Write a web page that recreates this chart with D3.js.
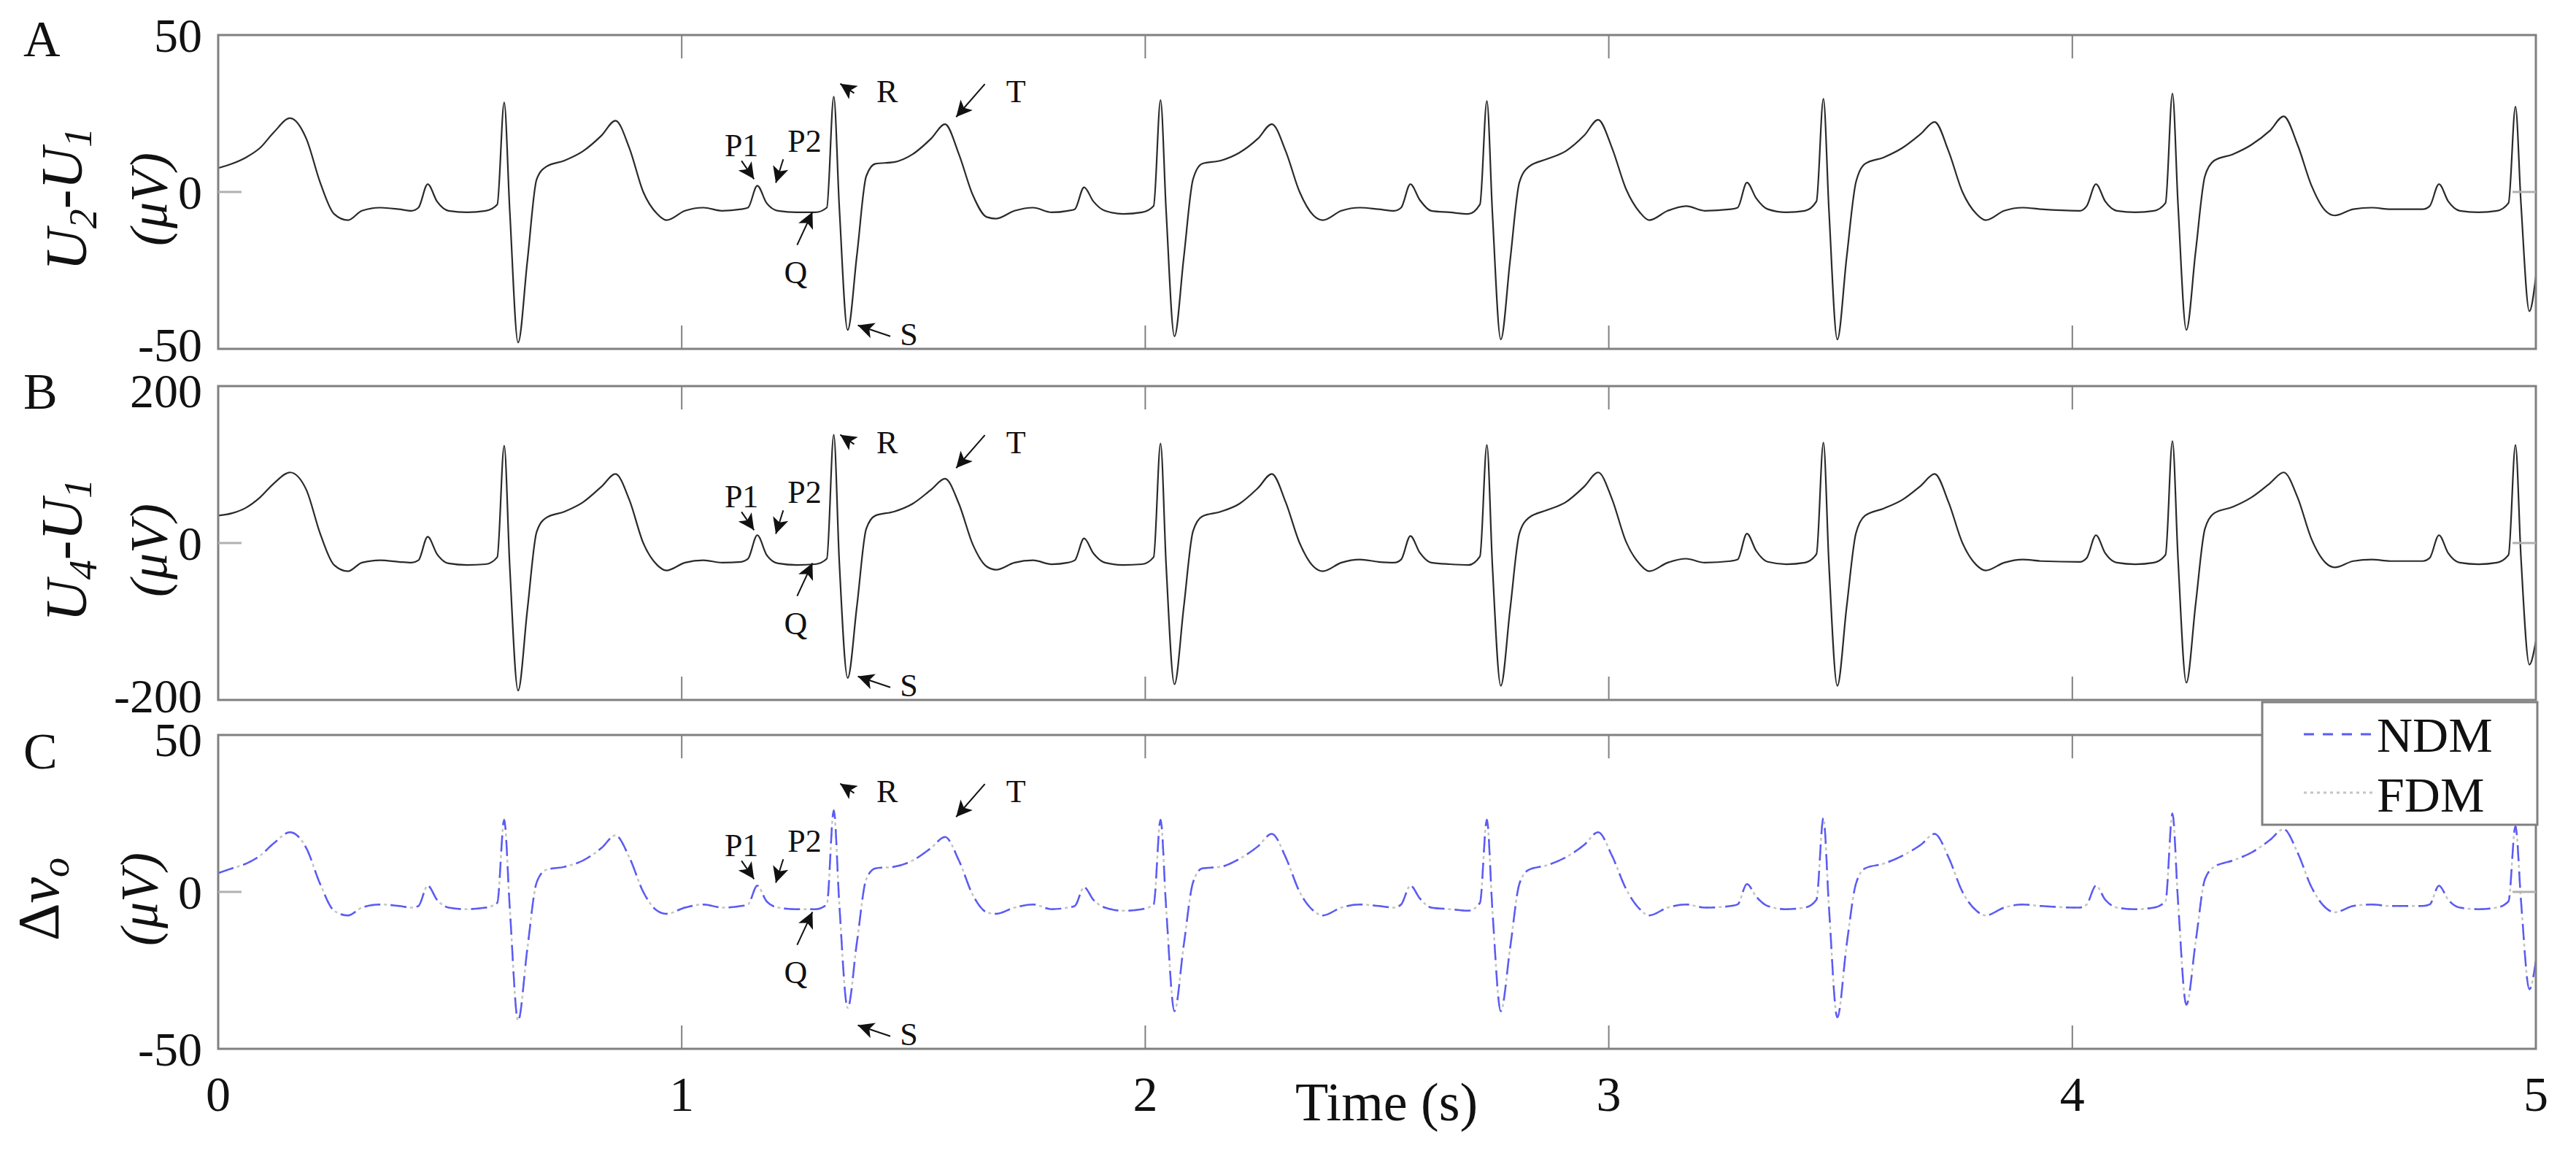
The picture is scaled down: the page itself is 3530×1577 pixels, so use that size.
<!DOCTYPE html>
<html><head><meta charset="utf-8">
<script src="https://cdn.jsdelivr.net/npm/d3@7/dist/d3.min.js"></script>
<style>body{margin:0;background:#fff}svg{display:block}text{font-family:"Liberation Serif",serif;fill:#111}</style>
</head><body>
<script>
// ---- data ----
const rPeakTimes = [0.617, 1.328, 2.033, 2.737, 3.463, 4.216, 4.956];
const beatOffsets = [-0.20,-0.185,-0.165,-0.145,-0.12,-0.08,-0.04,-0.015,0,0.012,0.03,0.05,0.07,0.09,0.13,0.17,0.21,0.24,0.27,0.30,0.33,0.35,0.39,0.43,0.47];
const leadTimes = [0,0.03,0.06,0.09,0.12,0.155,0.19,0.22,0.25,0.28,0.31,0.35,0.39];
const tailTime = 5.0;

const leadA = [7.6,9,11,14,19,23.5,17,3,-7,-9,-6,-5,-5.5];
const beatsA = [
 [-6,-5,2.5,-3,-6,-6.5,-6,-4,28.5,-6,-48,-22,4,8,10,13,18,22.7,14,0,-7,-9,-6,-5,-6],
 [-5.5,-5,2,-3.5,-6,-6.5,-6.5,-5,30.4,-5,-44,-20,5,9,9.5,12,17,21.6,12,-1,-8,-8.5,-6,-5,-6.5],
 [-6,-5.5,1.5,-3,-6,-7,-6.5,-4.5,29.3,-6,-46,-21,4,9,10,12.5,17,21.6,13,0,-7.5,-9,-6,-5,-5.5],
 [-6,-5,2.5,-2.5,-6,-6.5,-7,-4,29,-7,-47,-22,3,8,10.5,13,18,23,14,1,-6.5,-9,-6,-4.5,-6],
 [-5.5,-5,3,-2,-5.5,-6.5,-6,-3,29.7,-6,-47,-21,3,9,11,14,18.5,22.3,13,0,-7,-9,-6,-5,-5.5],
 [-6,-4.5,2.5,-3,-6,-6.5,-6,-3.5,31.4,-4,-44,-19,5,10,12,15,19.5,24.1,15,2,-6,-7.5,-5.5,-5,-5.5],
 [-5.5,-4.5,2.5,-3,-6,-6.5,-6,-3.5,27.2,-4,-38]
];
const tailA = -27;

const leadB = [35,38,45,58,76,90,68,12,-28,-36,-25,-22,-24];
const beatsB = [
 [-25,-22,8,-14,-26,-28,-27,-18,124,-30,-188,-85,14,32,40,52,72,88,55,0,-28,-35,-25,-22,-25],
 [-24,-20,10,-15,-26,-28,-27,-20,138,-25,-172,-80,18,35,40,50,68,82,50,-2,-30,-34,-25,-22,-27],
 [-25,-22,6,-13,-25,-28,-27,-18,127,-28,-180,-82,15,34,40,50,70,88,52,0,-30,-36,-25,-21,-24],
 [-25,-21,9,-12,-25,-27,-28,-17,125,-30,-182,-85,12,32,42,52,72,90,56,2,-27,-36,-25,-20,-25],
 [-23,-21,12,-10,-24,-27,-25,-14,128,-28,-182,-82,12,35,44,55,73,88,52,0,-28,-35,-25,-21,-23],
 [-24,-19,10,-13,-25,-27,-25,-15,130,-20,-178,-78,18,38,46,58,76,90,58,5,-25,-31,-23,-21,-23],
 [-23,-19,10,-13,-25,-27,-25,-15,125,-20,-155]
];
const tailB = -125;

const leadC = [6,7.5,9,11.5,15.5,19,14,2.5,-6,-7.5,-5,-4,-4.5];
const beatsC = [
 [-5,-4.5,2,-2.5,-5,-5.5,-5,-3.5,23,-5,-41,-18,3,7,8,10,14,18,11,0,-6,-7,-5,-4,-5],
 [-4.5,-4,2,-3,-5,-5.5,-5.5,-4,26,-4,-37,-16,4,7.5,8,10,14,17.5,10,-1,-6.5,-7,-5,-4,-5.5],
 [-5,-4.5,1.5,-2.5,-5,-6,-5.5,-4,23,-5,-38,-17,3,7.5,8,10.5,14.5,18.5,11,0,-6,-7.5,-5,-4,-4.5],
 [-5,-4,2,-2,-5,-5.5,-6,-3.5,23,-6,-38,-18,2.5,7,8.5,11,15,19,11.5,1,-5.5,-7.5,-5,-4,-5],
 [-4.5,-4,2.5,-1.5,-4.5,-5.5,-5,-2.5,23.5,-5,-40,-17,2.5,7.5,9,11.5,15,18.5,11,0,-6,-7.5,-5,-4,-4.5],
 [-5,-4,2,-2.5,-5,-5.5,-5,-3,25,-3,-36,-16,4,8,10,12.5,16.5,20,12.5,1.5,-5,-6.5,-4.5,-4,-4.5],
 [-4.5,-4,2,-2.5,-5,-5.5,-5,-3,21,-3,-31]
];
const tailC = -22;

const xTicks = [0,1,2,3,4,5];
const yTicksA = [-50,0,50], yTicksB = [-200,0,200], yTicksC = [-50,0,50];
const panelLetters = ["A","B","C"];
const legendLabels = ["NDM","FDM"];
// annotations in panel-A units: [label, textT, textV, tailT, tailV, headT, headV, anchor]
const annotations = [
 ["R",1.42,28.6,1.372,31.5,1.342,34.5,"start"],
 ["T",1.70,28.6,1.654,34.4,1.592,23.9,"start"],
 ["P1",1.129,11.5,1.129,9.9,1.156,4.1,"middle"],
 ["P2",1.265,12.7,1.219,10.4,1.203,2.9,"middle"],
 ["Q",1.246,-29,1.249,-16.9,1.282,-6.4,"middle"],
 ["S",1.49,-48.8,1.45,-46,1.38,-42.5,"middle"]
];

function buildSeries(lead, beats, tail){
  const pts = leadTimes.map((t,i)=>({t, v: lead[i]}));
  beats.forEach((vals,b)=>vals.forEach((v,i)=>pts.push({t: rPeakTimes[b]+beatOffsets[i], v})));
  pts.push({t: tailTime, v: tail});
  return pts;
}
const seriesA = buildSeries(leadA, beatsA, tailA);
const seriesB = buildSeries(leadB, beatsB, tailB);
const seriesC = buildSeries(leadC, beatsC, tailC);

// ---- layout ----
const W=3530,H=1577, L=299, R=3475, PH=430, tops=[48,529,1007];
const svg=d3.select("body").append("svg").attr("width",W).attr("height",H);
svg.append("defs").append("marker").attr("id","ah").attr("viewBox","0 0 10 10")
 .attr("refX",10).attr("refY",5).attr("markerWidth",34).attr("markerHeight",22)
 .attr("markerUnits","userSpaceOnUse").attr("orient","auto")
 .append("path").attr("d","M0,0 L10,5 L0,10 L2.5,5 Z").attr("fill","#111");

const x=d3.scaleLinear().domain([0,5]).range([L,R]);
const panels=[
 {s:seriesA, dom:[-50,50], ticks:yTicksA, k:1},
 {s:seriesB, dom:[-200,200], ticks:yTicksB, k:4},
 {s:seriesC, dom:[-50,50], ticks:yTicksC, k:1}
];
const grey="#808080";
panels.forEach((p,i)=>{
  const top=tops[i], y=d3.scaleLinear().domain(p.dom).range([top+PH,top]);
  const g=svg.append("g");
  const line=d3.line().x(d=>x(d.t)).y(d=>y(d.v)).curve(d3.curveMonotoneX);
  if(i<2){
    g.append("path").datum(p.s).attr("d",line).attr("fill","none").attr("stroke","#2a2a2a").attr("stroke-width",2.2);
  } else {
    g.append("path").datum(p.s).attr("d",line).attr("fill","none").attr("stroke","#c4c4c4").attr("stroke-width",2.5).attr("stroke-dasharray","4,5");
    g.append("path").datum(p.s).attr("d",line).attr("fill","none").attr("stroke","#5b5bf5").attr("stroke-width",2.5).attr("stroke-dasharray","22,14");
  }
  g.append("rect").attr("x",L).attr("y",top).attr("width",R-L).attr("height",PH).attr("fill","none").attr("stroke",grey).attr("stroke-width",3);
  xTicks.forEach(t=>{
    g.append("line").attr("x1",x(t)).attr("x2",x(t)).attr("y1",top).attr("y2",top+32).attr("stroke",grey).attr("stroke-width",2);
    g.append("line").attr("x1",x(t)).attr("x2",x(t)).attr("y1",top+PH).attr("y2",top+PH-32).attr("stroke",grey).attr("stroke-width",2);
  });
  p.ticks.forEach(v=>{
    const off = (i>0 && v===p.dom[1]) ? 6 : (i<2 && v===p.dom[0]) ? -6 : 0;
    g.append("text").attr("x",277).attr("y",y(v)+off).attr("dy","0.35em").attr("text-anchor","end").attr("font-size",66).text(v);
    if(v===0){
      g.append("line").attr("x1",L).attr("x2",L+32).attr("y1",y(0)).attr("y2",y(0)).attr("stroke","#b0b0b0").attr("stroke-width",3);
      g.append("line").attr("x1",R).attr("x2",R-32).attr("y1",y(0)).attr("y2",y(0)).attr("stroke","#b0b0b0").attr("stroke-width",3);
    }
  });
  g.append("text").attr("x",32).attr("y",[77,560,1053][i]).attr("font-size",70).text(panelLetters[i]);
  annotations.forEach(a=>{
    g.append("line").attr("x1",x(a[3])).attr("y1",y(a[4]*p.k)).attr("x2",x(a[5])).attr("y2",y(a[6]*p.k))
     .attr("stroke","#111").attr("stroke-width",2).attr("marker-end","url(#ah)");
    g.append("text").attr("x",x(a[1])).attr("y",y(a[2]*p.k)).attr("text-anchor",a[7]).attr("font-size",44).text(a[0]);
  });
  const cy=top+PH/2+10;
  const l1=g.append("text").attr("transform",`translate(${i<2?118:80},${cy}) rotate(-90)`).attr("text-anchor","middle").attr("font-size",80).attr("font-style","italic");
  if(i<2){
    l1.append("tspan").text("U");
    l1.append("tspan").attr("dy","0.25em").attr("font-size",54).text(i===0?"2":"4");
    l1.append("tspan").attr("dy","-0.25em").text("-U");
    l1.append("tspan").attr("dy","0.25em").attr("font-size",54).text("1");
  } else {
    l1.append("tspan").attr("font-style","normal").text("Δ");
    l1.append("tspan").text("v");
    l1.append("tspan").attr("dy","0.25em").attr("font-size",54).text("o");
  }
  g.append("text").attr("transform",`translate(${i<2?228:215},${cy}) rotate(-90)`).attr("text-anchor","middle").attr("font-size",72).attr("font-style","italic").text("(μV)");
});

xTicks.forEach(t=>svg.append("text").attr("x",x(t)).attr("y",1522).attr("text-anchor","middle").attr("font-size",68).text(t));
svg.append("text").attr("x",1775).attr("y",1535).attr("font-size",74).text("Time (s)");

const lg=svg.append("g");
lg.append("rect").attr("x",3100).attr("y",962).attr("width",377).attr("height",168).attr("fill","#fff").attr("stroke",grey).attr("stroke-width",3);
lg.append("line").attr("x1",3157).attr("x2",3252).attr("y1",1006).attr("y2",1006).attr("stroke","#5b5bf5").attr("stroke-width",3).attr("stroke-dasharray","14,12");
lg.append("line").attr("x1",3157).attr("x2",3252).attr("y1",1086).attr("y2",1086).attr("stroke","#c4c4c4").attr("stroke-width",3).attr("stroke-dasharray","4,5");
legendLabels.forEach((s,i)=>lg.append("text").attr("x",3257).attr("y",[1030,1112][i]).attr("font-size",68).text(s));
</script>
</body></html>
